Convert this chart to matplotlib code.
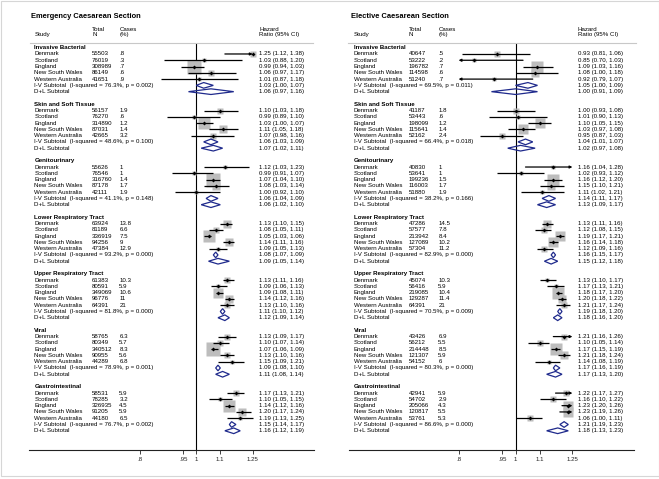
import matplotlib
matplotlib.use('Agg')
import matplotlib.pyplot as plt
import numpy as np
from matplotlib.transforms import blended_transform_factory
from matplotlib.patches import Polygon, Rectangle
from matplotlib.lines import Line2D

plt.rcParams['font.family'] = ['Liberation Sans', 'DejaVu Sans']

# ---------------- data ----------------
subgroups = ["Invasive Bacterial", "Skin and Soft Tissue", "Genitourinary",
             "Lower Respiratory Tract", "Upper Respiratory Tract", "Viral", "Gastrointestinal"]
countries = ["Denmark", "Scotland", "England", "New South Wales", "Western Australia"]
tick_vals = [0.8, 0.95, 1.0, 1.1, 1.25]
tick_labels = [".8", ".95", "1", "1.1", "1.25"]

# Emergency caesarean section
em_N = [[55503, 76019, 308989, 86149, 41651],
        [56157, 76270, 314890, 87031, 42665],
        [55626, 76546, 316760, 87178, 42111],
        [63924, 81189, 336919, 94256, 47384],
        [61383, 80591, 349069, 96776, 64391],
        [58765, 80349, 340512, 90955, 44289],
        [58531, 78285, 326935, 91205, 44180]]
em_cases = [[.8, .3, .7, .6, .9],
            [1.9, .6, 1.2, 1.4, 3.2],
            [1, 1, 1.4, 1.7, 1.9],
            [13.8, 6.6, 7.5, 9, 12.9],
            [10.3, 5.9, 10.6, 11, 21],
            [6.3, 5.7, 8.3, 5.6, 6.8],
            [5.9, 3.2, 4.5, 5.9, 6.5]]
em_hr = [[1.25, 1.03, 0.99, 1.06, 1.01],
         [1.10, 0.99, 1.03, 1.11, 1.07],
         [1.12, 0.99, 1.07, 1.08, 1.00],
         [1.13, 1.08, 1.05, 1.14, 1.09],
         [1.13, 1.09, 1.09, 1.14, 1.13],
         [1.13, 1.10, 1.07, 1.13, 1.15],
         [1.17, 1.10, 1.14, 1.20, 1.19]]
em_lo = [[1.12, 0.88, 0.94, 0.97, 0.87],
         [1.03, 0.89, 1.00, 1.05, 0.98],
         [1.03, 0.91, 1.04, 1.03, 0.92],
         [1.10, 1.05, 1.03, 1.11, 1.05],
         [1.11, 1.06, 1.08, 1.12, 1.10],
         [1.09, 1.07, 1.06, 1.10, 1.09],
         [1.13, 1.05, 1.12, 1.17, 1.13]]
em_hi = [[1.38, 1.20, 1.03, 1.17, 1.18],
         [1.18, 1.10, 1.07, 1.18, 1.16],
         [1.23, 1.07, 1.10, 1.14, 1.10],
         [1.15, 1.11, 1.06, 1.16, 1.13],
         [1.16, 1.13, 1.11, 1.16, 1.16],
         [1.17, 1.14, 1.09, 1.16, 1.21],
         [1.21, 1.15, 1.16, 1.24, 1.25]]
em_iv = [(1.03, 1.00, 1.07), (1.06, 1.03, 1.09), (1.06, 1.04, 1.09), (1.08, 1.07, 1.09),
         (1.11, 1.10, 1.12), (1.09, 1.08, 1.10), (1.15, 1.14, 1.17)]
em_dl = [(1.06, 0.97, 1.16), (1.07, 1.02, 1.11), (1.06, 1.02, 1.10), (1.09, 1.05, 1.14),
         (1.12, 1.09, 1.14), (1.11, 1.08, 1.14), (1.16, 1.12, 1.19)]
em_isq = [76.3, 48.6, 41.1, 93.2, 81.8, 78.9, 76.7]
em_p = [0.002, 0.100, 0.148, 0.000, 0.000, 0.001, 0.002]

# Elective caesarean section
el_N = [[40647, 53222, 196782, 114598, 51240],
        [41187, 53443, 198099, 115641, 52162],
        [40830, 53641, 199236, 116003, 51880],
        [47286, 57577, 213942, 127089, 57304],
        [45074, 56416, 219085, 129287, 64391],
        [43426, 56212, 214448, 121307, 54152],
        [42941, 54702, 205066, 120817, 53761]]
el_cases = [[.5, .2, .7, .6, .7],
            [1.8, .6, 1.2, 1.4, 2.4],
            [1, 1, 1.5, 1.7, 1.9],
            [14.5, 7.8, 8.4, 10.2, 11.2],
            [10.3, 5.9, 10.4, 11.4, 21],
            [6.9, 5.5, 8.5, 5.9, 6],
            [5.9, 2.9, 4.3, 5.5, 5.3]]
el_hr = [[0.93, 0.85, 1.09, 1.08, 0.92],
         [1.00, 1.01, 1.10, 1.03, 0.95],
         [1.16, 1.02, 1.16, 1.15, 1.11],
         [1.13, 1.12, 1.19, 1.16, 1.12],
         [1.13, 1.17, 1.18, 1.20, 1.21],
         [1.21, 1.10, 1.17, 1.21, 1.14],
         [1.22, 1.16, 1.23, 1.23, 1.06]]
el_lo = [[0.81, 0.70, 1.03, 1.00, 0.79],
         [0.93, 0.90, 1.05, 0.97, 0.87],
         [1.04, 0.93, 1.12, 1.10, 1.02],
         [1.11, 1.08, 1.17, 1.14, 1.09],
         [1.10, 1.13, 1.17, 1.18, 1.17],
         [1.16, 1.05, 1.15, 1.18, 1.08],
         [1.17, 1.10, 1.20, 1.19, 1.00]]
el_hi = [[1.06, 1.03, 1.16, 1.18, 1.07],
         [1.08, 1.13, 1.15, 1.08, 1.03],
         [1.28, 1.12, 1.20, 1.21, 1.21],
         [1.16, 1.15, 1.21, 1.18, 1.16],
         [1.17, 1.21, 1.20, 1.22, 1.24],
         [1.26, 1.14, 1.19, 1.24, 1.19],
         [1.27, 1.22, 1.26, 1.26, 1.11]]
el_iv = [(1.05, 1.00, 1.09), (1.04, 1.01, 1.07), (1.14, 1.11, 1.17), (1.16, 1.15, 1.17),
         (1.19, 1.18, 1.20), (1.17, 1.16, 1.19), (1.21, 1.19, 1.23)]
el_dl = [(1.00, 0.91, 1.09), (1.02, 0.97, 1.08), (1.13, 1.09, 1.17), (1.15, 1.12, 1.18),
         (1.18, 1.16, 1.20), (1.17, 1.13, 1.20), (1.18, 1.13, 1.23)]
el_isq = [69.5, 66.4, 38.2, 82.9, 70.5, 80.3, 86.6]
el_p = [0.011, 0.018, 0.166, 0.000, 0.009, 0.000, 0.000]

# ---------------- layout ----------------
W, H = 659, 479
fig = plt.figure(figsize=(W / 100, H / 100), dpi=100)
ROW0, DY = 47.7, 6.28
TOP, BOT = 43.0, 450.0
FS = 4.4
NAVY = '#1f2a8c'
BOXC = '#bdbdbd'


def row_of(py):
    return (py - ROW0) / DY


def fmt_cases(v):
    if float(v).is_integer():
        return str(int(v))
    s = f"{v:.1f}"
    return s[1:] if s.startswith("0") else s


def draw_panel(title, axl, axr, one_px, scale, colx, hdr_line, N, cases, hr, lo, hi, iv, dl, isq, pv):
    ax = fig.add_axes([axl / W, 1 - BOT / H, (axr - axl) / W, (BOT - TOP) / H])
    ax.set_xscale('log')
    ax.set_xlim(np.exp((axl - one_px) / scale), np.exp((axr - one_px) / scale))
    ax.set_ylim(row_of(BOT), row_of(TOP))
    for s in ['top', 'left', 'right']:
        ax.spines[s].set_visible(False)
    ax.spines['bottom'].set_linewidth(0.8)
    ax.spines['bottom'].set_color('#222222')
    ax.set_yticks([])
    ax.set_xticks(tick_vals)
    ax.set_xticklabels(tick_labels)
    ax.minorticks_off()
    ax.tick_params(axis='x', length=2.6, width=0.6, labelsize=FS, pad=2.5, colors='#222222')
    ax.patch.set_visible(False)
    ax.axvline(1.0, color='black', lw=0.8, zorder=1)

    tr = blended_transform_factory(fig.transFigure, ax.transData)
    xs, xn, xc, xh = [c / W for c in colx]
    kw = dict(transform=tr, fontsize=FS, va='center', clip_on=False, color='black')
    # title and header
    ax.text(colx[0] / W - 3.3 / W, row_of(16), title, transform=tr, fontsize=5.4,
            fontweight='bold', va='center', clip_on=False)
    ax.text(xs, row_of(34.3), "Study", **kw)
    ax.text(xn, row_of(29), "Total", **kw)
    ax.text(xn, row_of(34.3), "N", **kw)
    ax.text(xc, row_of(29), "Cases", **kw)
    ax.text(xc, row_of(34.3), "(%)", **kw)
    ax.text(xh, row_of(29), "Hazard", **kw)
    ax.text(xh, row_of(34.3), "Ratio (95% CI)", **kw)
    fig.add_artist(Line2D([hdr_line[0] / W, hdr_line[1] / W], [1 - TOP / H] * 2,
                          color='#c8c8c8', lw=0.8))

    lo_clip, hi_clip = tick_vals[0], tick_vals[-1]
    for g, name in enumerate(subgroups):
        r0 = 9 * g
        ax.text(xs, r0, name, fontweight='bold', **kw)
        est = np.array(hr[g]); l = np.array(lo[g]); u = np.array(hi[g])
        se = (np.log(u) - np.log(l)) / (2 * 1.96)
        w = 1 / se ** 2
        wpct = 100 * w / w.sum()
        for i, c in enumerate(countries):
            r = r0 + 1 + i
            ax.text(xs, r, c, **kw)
            ax.text(xn, r, str(N[g][i]), **kw)
            ax.text(xc, r, fmt_cases(cases[g][i]), **kw)
            ax.text(xh, r, f"{est[i]:.2f} ({l[i]:.2f}, {u[i]:.2f})", **kw)
            side_px = 1.7 * np.sqrt(wpct[i])
            ax.plot([est[i]], [r], marker='s', ms=side_px * 0.72, color=BOXC, mec='none',
                    zorder=2, clip_on=False)
            a, b = max(l[i], lo_clip), min(u[i], hi_clip)
            if l[i] < lo_clip or u[i] > hi_clip:
                if l[i] < lo_clip and u[i] > hi_clip:
                    style, p0, p1 = '<|-|>', a, b
                elif u[i] > hi_clip:
                    style, p0, p1 = '-|>', a, b
                else:
                    style, p0, p1 = '-|>', b, a
                ax.annotate('', xy=(p1, r), xytext=(p0, r),
                            arrowprops=dict(arrowstyle=style, color='black', lw=0.9,
                                            mutation_scale=3.5, shrinkA=0, shrinkB=0),
                            zorder=3)
            else:
                ax.plot([a, b], [r, r], color='black', lw=0.9, zorder=3, solid_capstyle='butt')
            ax.plot([est[i]], [r], marker='D', ms=2.0, color='black', mec='none', zorder=4)
        # subtotals
        r_iv, r_dl = r0 + 6, r0 + 7
        ax.text(xs, r_iv, f"I-V Subtotal  (I-squared = {isq[g]:.1f}%, p = {pv[g]:.3f})", **kw)
        ax.text(xs, r_dl, "D+L Subtotal", **kw)
        for rr, (e, a, b) in ((r_iv, iv[g]), (r_dl, dl[g])):
            ax.text(xh, rr, f"{e:.2f} ({a:.2f}, {b:.2f})", **kw)
            hh = 0.45
            ax.add_patch(Polygon([(a, rr), (e, rr - hh), (b, rr), (e, rr + hh)], closed=True,
                                 fill=False, edgecolor=NAVY, lw=0.9, zorder=5))
    return ax


draw_panel("Emergency Caesarean Section", 29.4, 314.0, 196.2, 253.0,
           (34.3, 92.0, 119.3, 259.3), (30, 313),
           em_N, em_cases, em_hr, em_lo, em_hi, em_iv, em_dl, em_isq, em_p)
draw_panel("Elective Caesarean Section", 348.7, 633.6, 515.5, 255.0,
           (354.0, 408.5, 438.3, 577.7), (348, 636),
           el_N, el_cases, el_hr, el_lo, el_hi, el_iv, el_dl, el_isq, el_p)

fig.add_artist(Rectangle((0.5 / W, 1 - 476 / H), 658 / W, 475.5 / H, transform=fig.transFigure,
                         fill=False, ec='#d6d6d6', lw=0.8))

fig.savefig('out.png', dpi=100)
